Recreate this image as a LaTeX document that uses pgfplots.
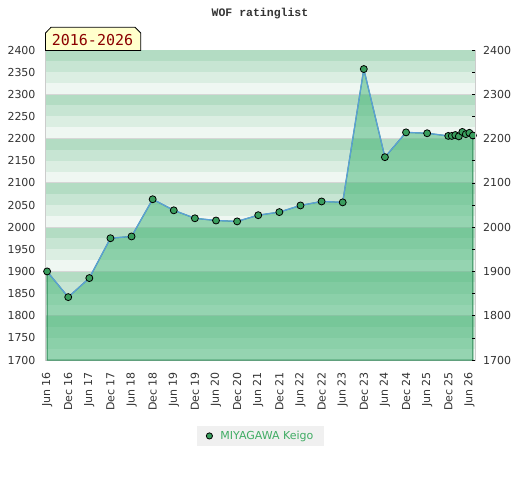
\documentclass[border=0pt]{standalone}
\usepackage{pgfplots}
\pgfplotsset{compat=1.18}
\usepackage{fontspec}
\setmainfont{DejaVu Sans}
\newfontfamily\monof{DejaVu Sans Mono}
\newfontfamily\titlef{Liberation Mono}
\definecolor{sa}{HTML}{EFF7F2}
\definecolor{sb}{HTML}{DBEEE2}
\definecolor{sc}{HTML}{C7E5D3}
\definecolor{sd}{HTML}{B3DCC3}
\definecolor{gridc}{HTML}{D6D6D6}
\definecolor{areag}{HTML}{3CB371}
\definecolor{edgeg}{HTML}{2E8B57}
\definecolor{lineb}{HTML}{5BA0D6}
\definecolor{markg}{HTML}{3A9E5E}
\definecolor{legg}{HTML}{40AC64}
\definecolor{txt}{HTML}{333333}
\definecolor{boxy}{HTML}{FFFFCC}
\definecolor{dred}{HTML}{8B0000}
\definecolor{legbg}{HTML}{F0F0F0}
\begin{document}
\begin{tikzpicture}[x=1pt,y=1pt]
\path[use as bounding box] (0,0) rectangle (520,480);
\begin{axis}[
  at={(45.7pt,120pt)}, anchor=south west,
  scale only axis, width=429.3pt, height=310pt,
  xmin=-0.4, xmax=121.6, ymin=1700, ymax=2400,
  xtick={0,6,...,120},
  xticklabels={Jun 16,Dec 16,Jun 17,Dec 17,Jun 18,Dec 18,Jun 19,Dec 19,Jun 20,Dec 20,Jun 21,Dec 21,Jun 22,Dec 22,Jun 23,Dec 23,Jun 24,Dec 24,Jun 25,Dec 25,Jun 26},
  ytick={1700,1750,...,2400},
  major tick length=0pt,
  axis line style={draw=gray!40},
  ticklabel style={font=\fontsize{11}{13}\selectfont, text=txt},
  xticklabel style={yshift=-12pt, rotate=90, anchor=east, inner sep=0pt},
  yticklabel style={inner sep=0pt, xshift=-10pt, anchor=east},
  /pgf/number format/assume math mode=true,
  /pgf/number format/1000 sep={},
  clip mode=individual,
  legend style={at={(0.5,-0.245)}, anchor=center, fill=legbg, draw=none,
    font=\fontsize{11}{13}\selectfont, text=legg, inner xsep=8.5pt, inner ysep=3.5pt},
]
\pgfplotsinvokeforeach{1700,1800,1900,2000,2100,2200,2300}{
  \fill[sa] (axis cs:-0.4,#1) rectangle (axis cs:121.6,#1+25);
  \fill[sb] (axis cs:-0.4,#1+25) rectangle (axis cs:121.6,#1+50);
  \fill[sc] (axis cs:-0.4,#1+50) rectangle (axis cs:121.6,#1+75);
  \fill[sd] (axis cs:-0.4,#1+75) rectangle (axis cs:121.6,#1+100);
}
\pgfplotsinvokeforeach{1800,1900,2000,2100,2200,2300}{
  \draw[gridc, line width=0.8pt] (axis cs:-0.4,#1) -- (axis cs:121.6,#1);
}
\addplot[draw=edgeg, line width=1pt, fill=areag, fill opacity=0.5, forget plot] coordinates {
(0,1900) (6,1842) (12,1885) (18,1975) (24,1979) (30,2063) (36,2038) (42,2020)
(48,2015) (54,2013) (60,2027) (66,2034) (72,2049) (78,2058) (84,2056) (90,2357)
(96,2158) (102,2214) (108,2212) (114,2206) (115,2206) (116,2208) (117,2205)
(118,2215) (119,2210) (120,2213) (121,2207)
} \closedcycle;
\addplot[color=lineb, line width=1.3pt, mark=*, mark size=3.5pt,
  mark options={fill=markg, draw=black, line width=0.8pt},
  legend image code/.code={\path[draw=none, fill=none] (-4pt,-1pt) rectangle (9pt,1pt);\draw[draw=none, mark=*, mark size=3.1pt, mark options={fill=markg, draw=black, line width=0.8pt}] plot coordinates {(0pt,0pt)};}]
coordinates {
(0,1900) (6,1842) (12,1885) (18,1975) (24,1979) (30,2063) (36,2038) (42,2020)
(48,2015) (54,2013) (60,2027) (66,2034) (72,2049) (78,2058) (84,2056) (90,2357)
(96,2158) (102,2214) (108,2212) (114,2206) (115,2206) (116,2208) (117,2205)
(118,2215) (119,2210) (120,2213) (121,2207)
};
\addlegendentry{MIYAGAWA Keigo}
\end{axis}
\begin{axis}[
  at={(45.7pt,120pt)}, anchor=south west,
  scale only axis, width=429.3pt, height=310pt,
  xmin=-0.4, xmax=121.6, ymin=1700, ymax=2400,
  axis x line=none, axis y line*=right,
  ytick={1700,1800,...,2400},
  minor ytick={1750,1850,...,2350},
  tick align=inside, major tick length=3pt, minor tick length=3pt,
  tick style={black, line width=0.6pt},
  axis line style={draw=gray!40},
  ticklabel style={font=\fontsize{11}{13}\selectfont, text=txt},
  yticklabel style={inner sep=0pt, xshift=8pt, anchor=west},
  /pgf/number format/assume math mode=true,
  /pgf/number format/1000 sep={},
]
\addplot[draw=none, forget plot] coordinates {(0,1700)};
\end{axis}
\node[font=\titlef\bfseries\fontsize{11.5}{13}\selectfont, text=txt, anchor=base] at (260,463.3) {WOF ratinglist};
\draw[fill=boxy, line width=0.8pt] (45.5,429.5) -- (45.5,447) -- (51,452.7) -- (135,452.7) -- (140.7,447) -- (140.7,429.5) -- cycle;
\node[font=\monof\fontsize{15}{17}\selectfont, text=dred, anchor=base, inner sep=0pt] at (92.5,434.3) {2016-2026};
\end{tikzpicture}
\end{document}
